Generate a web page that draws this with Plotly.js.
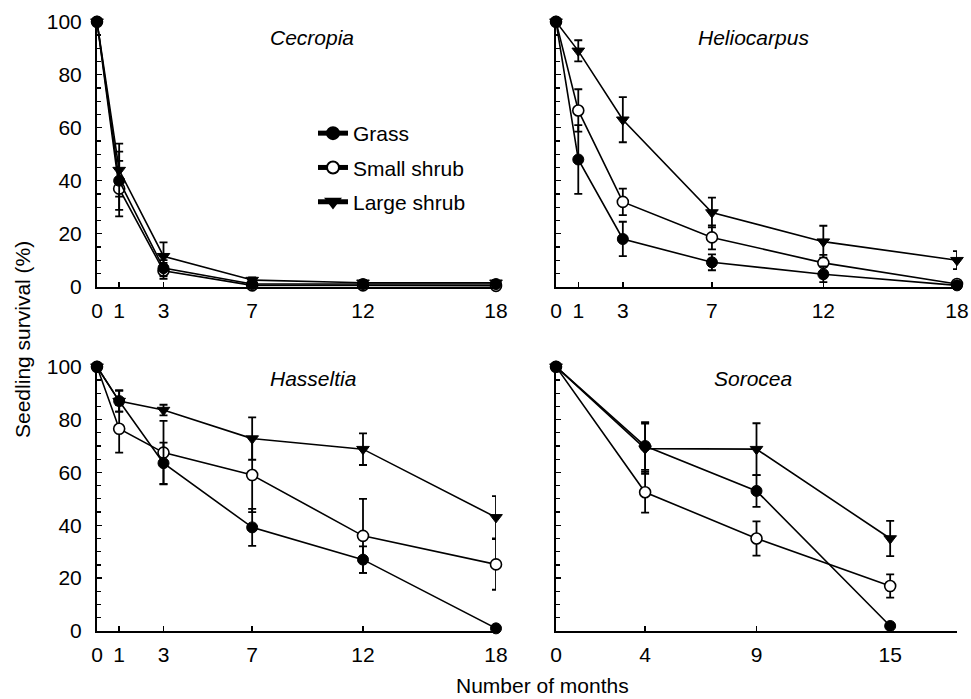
<!DOCTYPE html>
<html>
<head>
<meta charset="utf-8">
<script src="https://cdn.plot.ly/plotly-3.0.1.min.js"></script>
<style>html,body{margin:0;padding:0;background:#fff;}#chart{width:971px;height:699px;}</style>
</head>
<body>
<div id="chart"></div>
<script>
// ---- Data ----
const seriesNames = ["Grass", "Small shrub", "Large shrub"];
const speciesNames = ["Cecropia", "Heliocarpus", "Hasseltia", "Sorocea"];

const monthsA = [0, 1, 3, 7, 12, 18];
const monthsSorocea = [0, 4, 9, 15];

const cecropiaGrass = [100, 40, 7, 1, 1, 1];
const cecropiaGrassErr = [0, 11, 3, 0.5, 0.5, 0.5];
const cecropiaSmall = [100, 37, 6, 0.5, 0.5, 0.3];
const cecropiaSmallErr = [0, 10.5, 3, 0.5, 0.5, 0.3];
const cecropiaLarge = [100, 44, 11.5, 2.5, 1.5, 1.5];
const cecropiaLargeErr = [0, 10, 5.2, 1, 1, 1];

const helioGrass = [100, 48, 18, 9.2, 4.7, 0.5];
const helioGrassErr = [0, 13, 6.5, 3, 3, 0.3];
const helioSmall = [100, 66.5, 32, 18.6, 9, 1];
const helioSmallErr = [0, 8, 5, 4.5, 3, 0.5];
const helioLarge = [100, 89, 63, 28, 17, 10];
const helioLargeErr = [0, 4, 8.5, 5.6, 6, 3.4];

const hassGrass = [100, 87, 63.5, 39.2, 27, 1];
const hassGrassErr = [0, 4, 7.8, 7, 5, 0];
const hassSmall = [100, 76.5, 67.5, 59, 36, 25.2];
const hassSmallErr = [0, 9, 12, 14, 14, 9.6];
const hassLarge = [100, 87, 83.6, 72.8, 68.8, 43];
const hassLargeErr = [0, 4, 2, 8, 6, 8];

const soroGrass = [100, 70, 53, 1.9];
const soroGrassErr = [0, 9, 6, 0];
const soroSmall = [100, 52.5, 35, 17];
const soroSmallErr = [0, 7.7, 6.5, 4.4];
const soroLarge = [100, 69, 68.8, 35];
const soroLargeErr = [0, 9.5, 9.8, 6.7];

const yTickVals = [0, 20, 40, 60, 80, 100];

// ---- Build ----
const FONT = "Liberation Sans, Arial, Helvetica, sans-serif";
const markerStyles = [
  {symbol: "circle", color: "#000", size: 11, line: {color: "#000", width: 1}},
  {symbol: "circle", color: "#fff", size: 11, line: {color: "#000", width: 1.6}},
  {symbol: "triangle-down", color: "#000", size: 11, line: {color: "#000", width: 1}}
];

const panels = [
  {x: monthsA, ys: [cecropiaGrass, cecropiaSmall, cecropiaLarge], es: [cecropiaGrassErr, cecropiaSmallErr, cecropiaLargeErr], xa: "x", ya: "y"},
  {x: monthsA, ys: [helioGrass, helioSmall, helioLarge], es: [helioGrassErr, helioSmallErr, helioLargeErr], xa: "x2", ya: "y2"},
  {x: monthsA, ys: [hassGrass, hassSmall, hassLarge], es: [hassGrassErr, hassSmallErr, hassLargeErr], xa: "x3", ya: "y3"},
  {x: monthsSorocea, ys: [soroGrass, soroSmall, soroLarge], es: [soroGrassErr, soroSmallErr, soroLargeErr], xa: "x4", ya: "y4"}
];

const traces = [];
panels.forEach((p, pi) => {
  [2, 1, 0].forEach(si => {
    traces.push({
      type: "scatter", mode: "lines+markers",
      x: p.x, y: p.ys[si],
      xaxis: p.xa, yaxis: p.ya,
      name: seriesNames[si],
      legendgroup: "g" + si,
      legendrank: si + 1,
      showlegend: pi === 0,
      cliponaxis: false,
      line: {color: "#000", width: 1.6},
      marker: markerStyles[si],
      error_y: {type: "data", array: p.es[si], visible: true, color: "#000", thickness: 1.8, width: 4}
    });
  });
});

const W = 971, H = 699;
const xdomL = [97 / W, 496 / W], xdomR = [556 / W, 957 / W];
const ydomT = [1 - 286.7 / H, 1 - 21.7 / H], ydomB = [1 - 631 / H, 1 - 366.7 / H];

function xaxis(dom, tickvals, anchor) {
  return {
    domain: dom, anchor: anchor, range: [0, 18],
    tickmode: "array", tickvals: tickvals, ticktext: tickvals.map(String),
    ticks: "inside", ticklen: 5, tickwidth: 1.5, tickcolor: "#000",
    showline: true, linewidth: 2, linecolor: "#000",
    showgrid: false, zeroline: false,
    tickfont: {family: FONT, size: 21, color: "#000"},
    ticklabelstandoff: 4, fixedrange: true
  };
}
function yaxis(dom, anchor, showLabels) {
  return {
    domain: dom, anchor: anchor, range: [0, 100],
    tickmode: "array", tickvals: yTickVals,
    showticklabels: showLabels,
    ticks: "inside", ticklen: 5, tickwidth: 1.5, tickcolor: "#000",
    minor: {dtick: 5, tick0: 0, ticks: "inside", ticklen: 4, tickwidth: 1.2, tickcolor: "#000"},
    showline: true, linewidth: 2, linecolor: "#000",
    showgrid: false, zeroline: false,
    tickfont: {family: FONT, size: 21, color: "#000"},
    ticklabelstandoff: 9, fixedrange: true
  };
}

const titlePos = [
  [312, 37], [753, 37], [313, 378], [753, 378]
];
const annotations = speciesNames.map((s, i) => ({
  text: "<i>" + s + "</i>", xref: "paper", yref: "paper",
  x: titlePos[i][0] / W, y: 1 - titlePos[i][1] / H,
  xanchor: "center", yanchor: "middle", showarrow: false,
  font: {family: FONT, size: 21, color: "#000"}
}));
annotations.push({
  text: "Number of months", xref: "paper", yref: "paper",
  x: 542 / W, y: 1 - 685 / H, xanchor: "center", yanchor: "middle", showarrow: false,
  font: {family: FONT, size: 21, color: "#000"}
});
annotations.push({
  text: "Seedling survival (%)", xref: "paper", yref: "paper", textangle: -90,
  x: 22 / W, y: 1 - 340 / H, xanchor: "center", yanchor: "middle", showarrow: false,
  font: {family: FONT, size: 21, color: "#000"}
});

const layout = {
  width: W, height: H,
  margin: {l: 0, r: 0, t: 0, b: 0},
  paper_bgcolor: "#fff", plot_bgcolor: "#fff",
  showlegend: true,
  legend: {
    x: 313 / W, y: 1 - 113 / H, xanchor: "left", yanchor: "top",
    bgcolor: "rgba(0,0,0,0)", borderwidth: 0,
    font: {family: FONT, size: 21, color: "#000"},
    traceorder: "grouped", tracegroupgap: 4, itemsizing: "constant"
  },
  xaxis: xaxis(xdomL, monthsA, "y"),
  yaxis: yaxis(ydomT, "x", true),
  xaxis2: xaxis(xdomR, monthsA, "y2"),
  yaxis2: yaxis(ydomT, "x2", false),
  xaxis3: xaxis(xdomL, monthsA, "y3"),
  yaxis3: yaxis(ydomB, "x3", true),
  xaxis4: xaxis(xdomR, monthsSorocea, "y4"),
  yaxis4: yaxis(ydomB, "x4", false),
  annotations: annotations
};

Plotly.newPlot("chart", traces, layout, {staticPlot: true, displayModeBar: false});
</script>
</body>
</html>
